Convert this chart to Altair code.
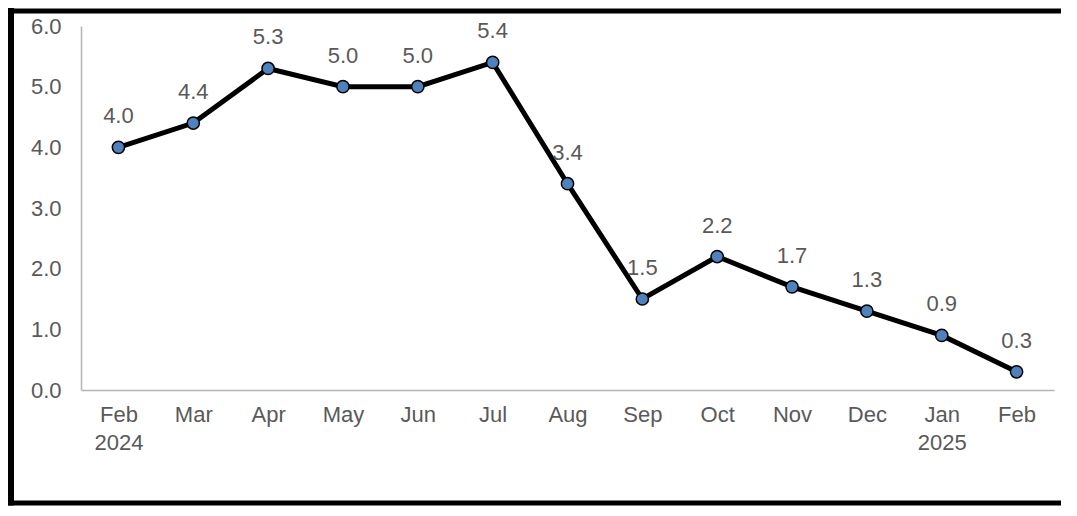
import altair as alt
import pandas as pd

months = ["Feb|2024", "Mar", "Apr", "May", "Jun", "Jul", "Aug", "Sep", "Oct", "Nov", "Dec", "Jan|2025", "Feb"]
values = [4.0, 4.4, 5.3, 5.0, 5.0, 5.4, 3.4, 1.5, 2.2, 1.7, 1.3, 0.9, 0.3]
y_ticks = [0, 1, 2, 3, 4, 5, 6]

df = pd.DataFrame({"month": months, "value": values})

FONT = "Liberation Sans"
GREY = "#595959"
FS = 22
W, H = 973, 364
PL, PT, PR, PB = 73, 18, 15, 116

x_enc = alt.X(
    "month:N",
    sort=months,
    scale=alt.Scale(type="point", padding=0.5),
    axis=alt.Axis(
        title=None,
        labelAngle=0,
        ticks=False,
        labelPadding=14,
        labelExpr="split(datum.value, '|')",
        labelLineHeight=28,
        labelFontSize=FS,
        labelFont=FONT,
        labelColor=GREY,
        domainColor="#B4B4B4",
        domainWidth=1.5,
        grid=False,
    ),
)
y_enc = alt.Y(
    "value:Q",
    scale=alt.Scale(domain=[0, 6], nice=False),
    axis=alt.Axis(
        title=None,
        values=y_ticks,
        format=".1f",
        ticks=False,
        labelPadding=20,
        labelFontSize=FS,
        labelFont=FONT,
        labelColor=GREY,
        domainColor="#B4B4B4",
        domainWidth=1.5,
        grid=False,
    ),
)

base = alt.Chart(df)
line = base.mark_line(color="black", strokeWidth=5).encode(x=x_enc, y=y_enc)
points = base.mark_point(
    filled=True, fill="#4F81BD", stroke="black", strokeWidth=1.5, size=150, opacity=1
).encode(x=x_enc, y=y_enc)
labels = base.mark_text(
    dy=-31, baseline="middle", align="center", fontSize=FS, font=FONT, color=GREY
).encode(x=x_enc, y=y_enc, text=alt.Text("value:Q", format=".1f"))

one = pd.DataFrame({"a": [0]})
L, T, R, B = -PL + 3, -PT + 3, W + PR - 8, H + PB - 3
left_edge = alt.Chart(one).mark_rule(color="black", strokeWidth=6).encode(
    x=alt.value(L), y=alt.value(T - 3), y2=alt.value(B + 2.5)
)
top_edge = alt.Chart(one).mark_rule(color="black", strokeWidth=5).encode(
    x=alt.value(L - 3), x2=alt.value(R), y=alt.value(T)
)
bottom_edge = alt.Chart(one).mark_rule(color="black", strokeWidth=5).encode(
    x=alt.value(L - 3), x2=alt.value(R), y=alt.value(B)
)

chart = alt.layer(left_edge, top_edge, bottom_edge, line, points, labels).properties(
    width=W,
    height=H,
    padding={"left": PL, "top": PT, "right": PR, "bottom": PB},
    autosize=alt.AutoSizeParams(type="none"),
    background="white",
).configure_view(stroke=None)

chart.save("out.html", embed_options={"renderer": "svg", "actions": False})
